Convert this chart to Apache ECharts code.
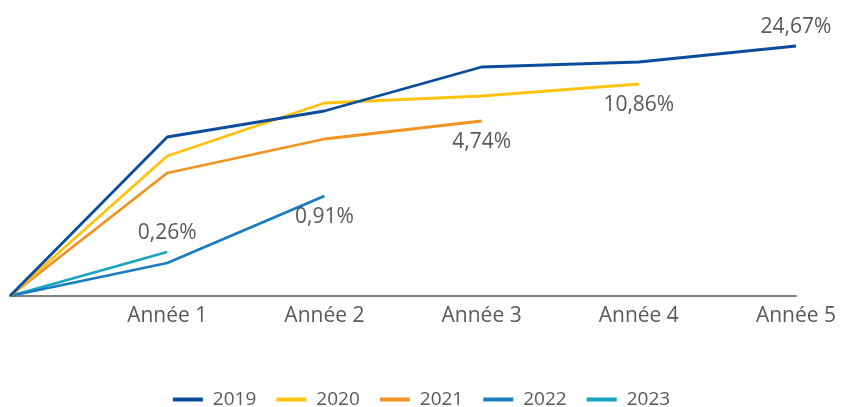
<!DOCTYPE html>
<html><head><meta charset="utf-8">
<script src="https://cdn.jsdelivr.net/npm/echarts@6/dist/echarts.min.js"></script>
<style>html,body{margin:0;padding:0;background:#fff}#c{width:843px;height:407px}</style>
</head><body><div id="c"></div>
<script>
const categories = ['', 'Année 1', 'Année 2', 'Année 3', 'Année 4', 'Année 5'];
const seriesNames = ['2019', '2020', '2021', '2022', '2023'];
const v2019 = [0, 159, 185, 229, 234, 250];
const v2020 = [0, 140, 193, 200, 212];
const v2021 = [0, 123, 157, 175];
const v2022 = [0, 33, 100];
const v2023 = [0, 44];
const endLabels = ['24,67%', '10,86%', '4,74%', '0,91%', '0,26%'];
const labelPos = ['top', 'bottom', 'bottom', 'bottom', 'top'];
const colors = ['#0b4c9c', '#ffc20e', '#f29222', '#1a7cc1', '#17a5c3'];
const values = [v2019, v2020, v2021, v2022, v2023];
const FONT = 'Open Sans';

const series = values.map((vals, i) => ({
  name: seriesNames[i],
  type: 'line',
  symbol: 'circle',
  symbolSize: 0,
  showSymbol: true,
  smooth: false,
  lineStyle: { width: 2.8, color: colors[i] },
  itemStyle: { color: colors[i] },
  z: 10 - i,
  data: vals.map((v, j) => j === vals.length - 1 ? {
    value: v,
    label: {
      show: true, position: labelPos[i], distance: labelPos[i] === 'top' ? 8 : 11,
      formatter: endLabels[i], color: '#595959', fontSize: 21,
      fontFamily: FONT
    }
  } : v)
}));

const chart = echarts.init(document.getElementById('c'));
chart.setOption({
  animation: false,
  color: colors,
  grid: { left: 10, right: 47, top: 16, bottom: 111 },
  legend: {
    top: 385, left: 'center',
    icon: 'rect', itemWidth: 30, itemHeight: 4, itemGap: 20,
    textStyle: { color: '#595959', fontSize: 19, fontFamily: FONT, padding: [0, 0, 0, 5] },
    data: seriesNames
  },
  xAxis: {
    type: 'category', boundaryGap: false, data: categories,
    axisLine: { lineStyle: { color: '#808080', width: 2 } },
    axisTick: { show: false },
    axisLabel: { color: '#595959', fontSize: 21, fontFamily: FONT, margin: 10 },
    splitLine: { show: false }
  },
  yAxis: {
    type: 'value', min: 0, max: 280, show: false,
    splitLine: { show: false }
  },
  series: series
});
</script>
</body></html>
